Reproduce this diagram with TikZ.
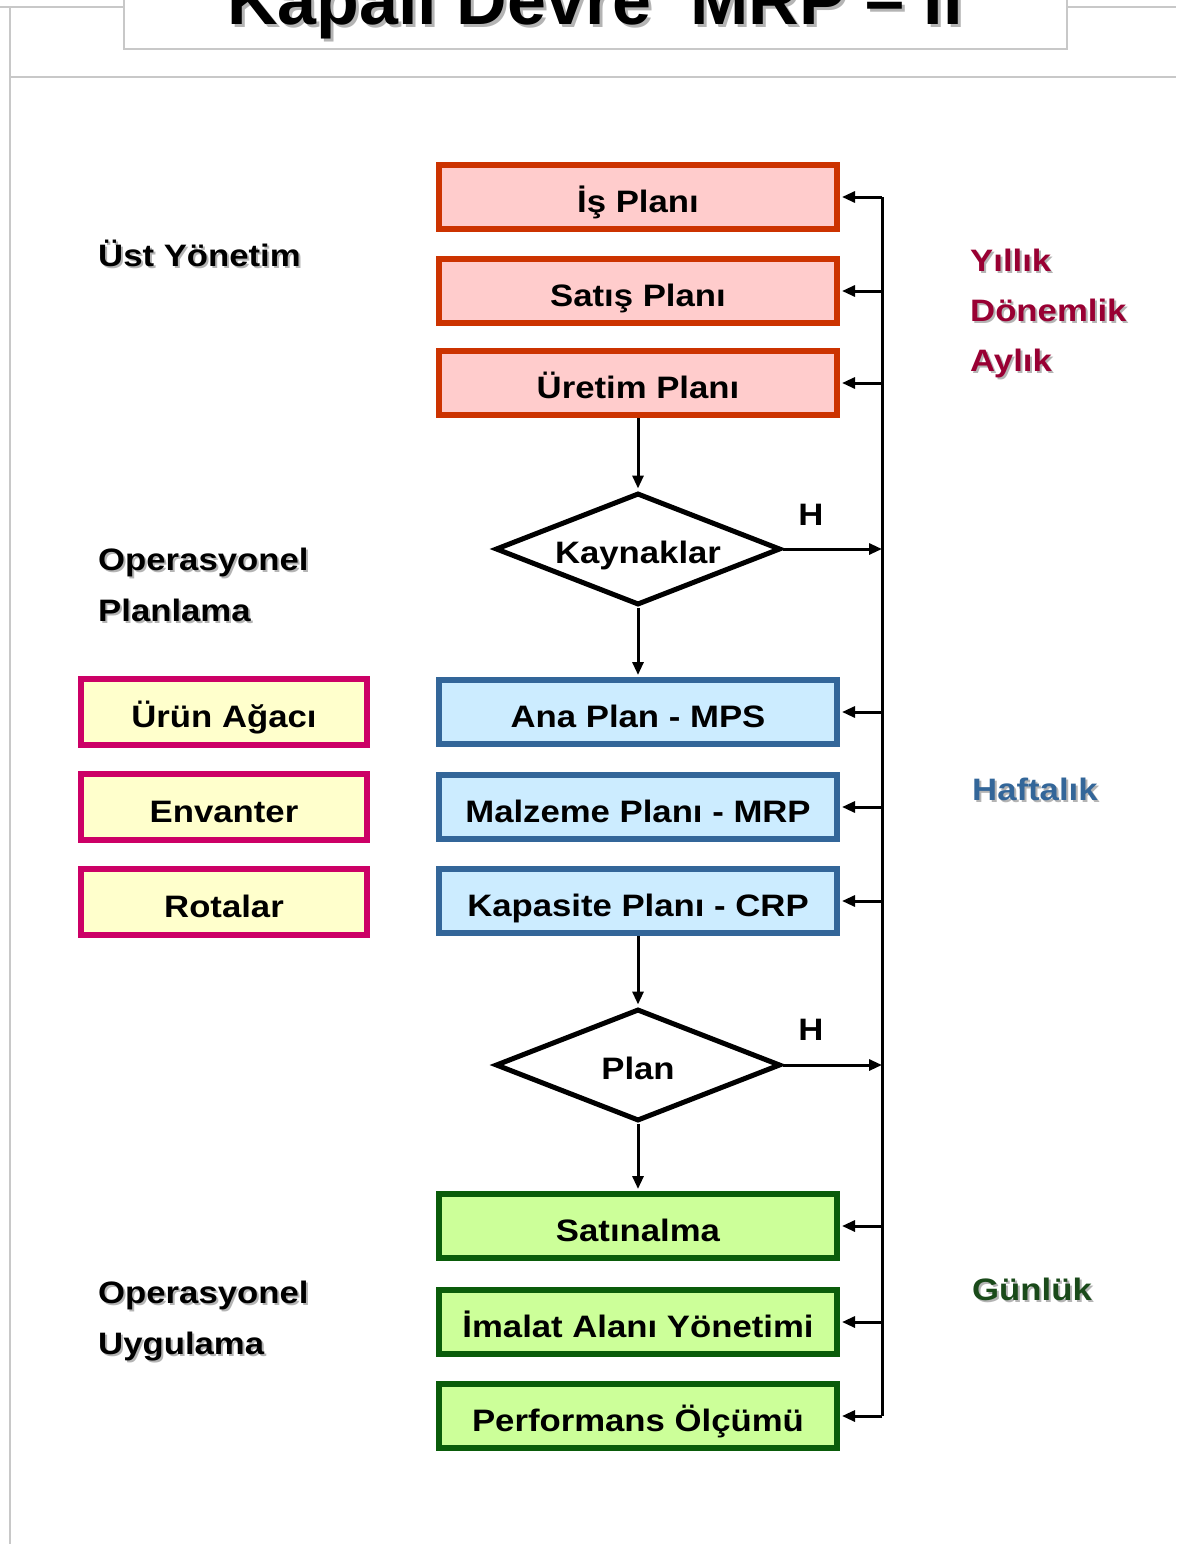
\documentclass[tikz,border=0pt]{standalone}
\usepackage{fontspec}
\setmainfont{Liberation Sans}
\newfontfamily\lblfont{Liberation Sans}[FakeStretch=1.12]
\usetikzlibrary{shapes.geometric,arrows.meta}

\definecolor{framegray}{HTML}{C8C8C8}
\definecolor{shadowgray}{HTML}{B4B4B4}
\definecolor{redline}{HTML}{CC3300}
\definecolor{redfill}{HTML}{FFCCCC}
\definecolor{blueline}{HTML}{336699}
\definecolor{bluefill}{HTML}{CCECFF}
\definecolor{greenline}{HTML}{0A5C0A}
\definecolor{greenfill}{HTML}{CCFF99}
\definecolor{pinkline}{HTML}{CC0066}
\definecolor{yellowfill}{HTML}{FFFFCC}
\definecolor{yearly}{HTML}{990033}
\definecolor{weekly}{HTML}{336699}
\definecolor{daily}{HTML}{1A4A1A}

\tikzset{
  txt/.style={font=\lblfont\bfseries\fontsize{31}{36}\selectfont, inner sep=0pt},
  boxtxt/.style={txt, text height=31pt, text depth=0pt},
  stepbox/.style={boxtxt, draw, line width=6pt, minimum width=398pt, minimum height=64pt},
  redbox/.style={stepbox, draw=redline, fill=redfill},
  bluebox/.style={stepbox, draw=blueline, fill=bluefill},
  greenbox/.style={stepbox, draw=greenline, fill=greenfill},
  databox/.style={stepbox, draw=pinkline, fill=yellowfill, minimum width=286pt, minimum height=66pt},
  decision/.style={boxtxt, text height=28pt, diamond, draw=black, fill=white, line width=5pt,
                   aspect=2.5, minimum width=285pt, minimum height=112pt},
  link/.style={line width=3pt, -{Triangle[length=13pt,width=11pt]}, shorten >=2pt},
  lbl/.style={txt, anchor=base west},
  shade/.style={lbl, text=shadowgray},
}

\begin{document}
\begin{tikzpicture}[x=1pt, y=-1pt]
\useasboundingbox (0,0) rectangle (1176,1544);
\fill[white] (0,0) rectangle (1176,1544);

% page frame
\draw[framegray, line width=2.5pt] (0,7) -- (1176,7);
\draw[framegray, line width=2.5pt] (10,7) -- (10,1560);
\draw[framegray, line width=2pt] (10,77) -- (1176,77);

% title panel (its upper part runs off the page)
\draw[framegray, fill=white, line width=2pt] (124,-20) rectangle (1067,49);
\node[anchor=base, text=shadowgray, inner sep=0pt,
      font=\bfseries\fontsize{70}{80}\selectfont] (title-s) at (598,28) {Kapalı Devre \ MRP – II};
\node[anchor=base, inner sep=0pt,
      font=\bfseries\fontsize{70}{80}\selectfont] (title) at (595,25) {Kapalı Devre \ MRP – II};

% planning chain
\node[redbox] (is) at (638,197) {İş Planı};
\node[redbox] (satis) at (638,291) {Satış Planı};
\node[redbox] (uretim) at (638,383) {Üretim Planı};

\node[decision] (kay) at (638,549) {Kaynaklar};

\node[bluebox] (ana) at (638,712) {Ana Plan - MPS};
\node[bluebox] (malz) at (638,807) {Malzeme Planı - MRP};
\node[bluebox] (kap) at (638,901) {Kapasite Planı - CRP};

\node[decision] (plan) at (638,1065) {Plan};

\node[greenbox] (satin) at (638,1226) {Satınalma};
\node[greenbox] (imalat) at (638,1322) {İmalat Alanı Yönetimi};
\node[greenbox] (perf) at (638,1416) {Performans Ölçümü};

% master data
\node[databox] (urun) at (224,712) {Ürün Ağacı};
\node[databox] (envanter) at (224,807) {Envanter};
\node[databox] (rota) at (224,902) {Rotalar};

% feedback bus
\coordinate (bus-top) at (882,197);
\coordinate (bus-bot) at (882,1416);
\draw[line width=3pt] (bus-top) -- (bus-bot);

\foreach \b in {is,satis,uretim,ana,malz,kap,satin,imalat,perf}
  \draw[link] (\b.east -| bus-top) -- (\b.east);

% forward flow
\draw[link] (uretim.south) -- (kay.north);
\draw[link] (kay.south) -- (ana.north);
\draw[link] (kap.south) -- (plan.north);
\draw[link] (plan.south) -- (satin.north);

% rejection branches
\draw[link, shorten >=0pt] (kay.east) -- (kay.east -| bus-top);
\draw[link, shorten >=0pt] (plan.east) -- (plan.east -| bus-top);
\node[txt] (h1) at (811,515) {H};
\node[txt] (h2) at (811,1030) {H};

% levels
\node[shade] (ust-s) at (100,268) {Üst Yönetim};
\node[lbl] (ust) at (98,266) {Üst Yönetim};
\node[shade] (op1-s) at (100,572) {Operasyonel};
\node[lbl] (op1) at (98,570) {Operasyonel};
\node[shade] (pl-s) at (100,623) {Planlama};
\node[lbl] (pl) at (98,621) {Planlama};
\node[shade] (op2-s) at (100,1305) {Operasyonel};
\node[lbl] (op2) at (98,1303) {Operasyonel};
\node[shade] (uy-s) at (100,1356) {Uygulama};
\node[lbl] (uy) at (98,1354) {Uygulama};

% horizons
\node[shade] (yil-s) at (972,273) {Yıllık};
\node[lbl, text=yearly] (yil) at (970,271) {Yıllık};
\node[shade] (don-s) at (972,323) {Dönemlik};
\node[lbl, text=yearly] (don) at (970,321) {Dönemlik};
\node[shade] (ay-s) at (972,373) {Aylık};
\node[lbl, text=yearly] (ay) at (970,371) {Aylık};
\node[shade] (haf-s) at (974,802) {Haftalık};
\node[lbl, text=weekly] (haf) at (972,800) {Haftalık};
\node[shade] (gun-s) at (974,1302) {Günlük};
\node[lbl, text=daily] (gun) at (972,1300) {Günlük};
\end{tikzpicture}
\end{document}
